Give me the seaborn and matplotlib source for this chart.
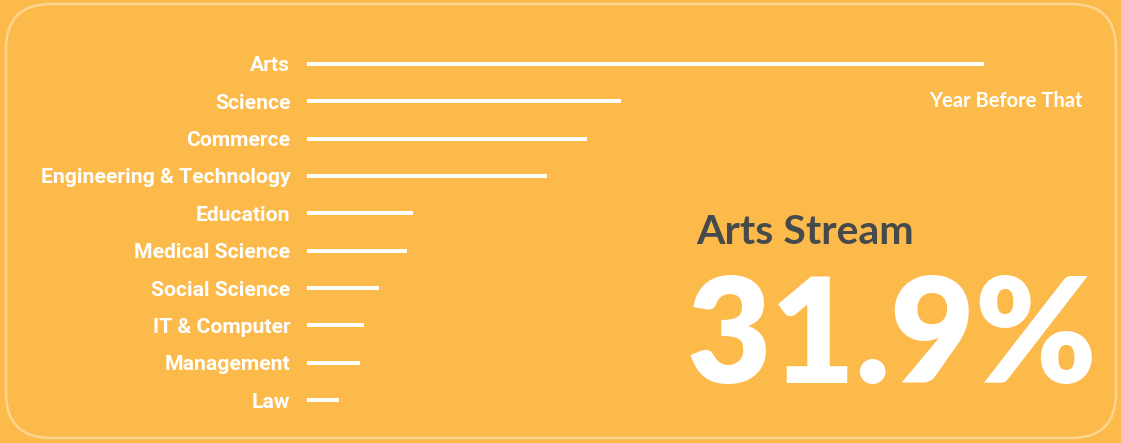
import pandas as pd
import matplotlib.pyplot as plt
import seaborn as sns
from matplotlib.patches import FancyBboxPatch

# share of students by stream (%)
streams = ["Arts", "Science", "Commerce", "Engineering & Technology", "Education",
           "Medical Science", "Social Science", "IT & Computer", "Management", "Law"]
shares = [31.9, 14.8, 13.2, 11.3, 5.0, 4.7, 3.4, 2.7, 2.5, 1.5]

headline_label = "Arts Stream"
headline_value = "31.9%"
period_label = "Year Before That"

bg = "#FCBA4B"

df = pd.DataFrame({"stream": streams, "share": shares})

sns.set_theme(style="white")
plt.rcParams["font.family"] = ["Roboto", "DejaVu Sans"]

fig = plt.figure(figsize=(11.21, 4.43), dpi=100, facecolor=bg)
ax = fig.add_axes([307 / 1121, 0.0549, (984 - 307) / 1121, 0.8428])
ax.set_facecolor(bg)

sns.barplot(data=df, x="share", y="stream", orient="h", color="white",
            width=0.11, linewidth=0, saturation=1, ax=ax)

ax.set_xlim(0, max(shares))
ax.set_ylim(len(streams) - 0.5, -0.5)
ax.set_xlabel("")
ax.set_ylabel("")
ax.set_xticks([])
ax.tick_params(axis="y", length=0, pad=12)
for lab in ax.get_yticklabels():
    lab.set_color("white")
    lab.set_fontweight("bold")
    lab.set_fontsize(15.2)
sns.despine(ax=ax, left=True, bottom=True)

# rounded frame
frame = FancyBboxPatch((6 / 1121, 5 / 443), 1110 / 1121, 434 / 443,
                       boxstyle="round,pad=0,rounding_size=0.04",
                       transform=fig.transFigure, facecolor="none",
                       edgecolor="#FDD58F", linewidth=1.8, mutation_aspect=1121 / 443)
fig.patches.append(frame)

fig.text(1083 / 1121, 1 - 101 / 443, period_label, ha="right", va="center",
         color="white", fontsize=14.5, fontweight="bold", family=["Lato", "DejaVu Sans"])
fig.text(696 / 1121, 1 - 232 / 443, headline_label, ha="left", va="center",
         color="#474A4D", fontsize=29.5, fontweight="bold", family=["Lato", "DejaVu Sans"])
fig.text(686 / 1121, 1 - 340 / 443, headline_value, ha="left", va="center",
         color="white", fontsize=105, fontweight="heavy", family=["Lato", "DejaVu Sans"])

plt.savefig("out.png", dpi=100, facecolor=bg)
